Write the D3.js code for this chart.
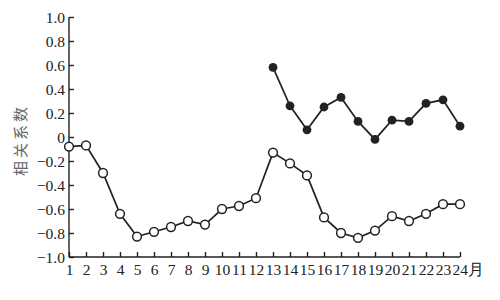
<!DOCTYPE html>
<html>
<head>
    <meta charset="UTF-8">
    <title>相关系数</title>
    <script src="https://d3js.org/d3.v7.min.js"></script>
    <style type="text/css">
      body{ margin:0; background-color: white; }
      svg{ background-color: white; display:block; }
    </style>
</head>
<body>
    <svg id="chart"></svg>
    <script>
        // months on the x axis
        const months = d3.range(1, 25);
        // hollow-circle series, months 1-24
        const hollow = [-0.08, -0.07, -0.30, -0.64, -0.83, -0.79, -0.75, -0.70, -0.73, -0.60, -0.575, -0.51,
                        -0.13, -0.22, -0.32, -0.67, -0.80, -0.84, -0.78, -0.66, -0.70, -0.64, -0.56, -0.56];
        // filled-circle series, months 13-24
        const filledMonths = d3.range(13, 25);
        const filled = [0.58, 0.26, 0.06, 0.25, 0.33, 0.13, -0.02, 0.14, 0.13, 0.28, 0.31, 0.09];
        const yTicks = [1.0, 0.8, 0.6, 0.4, 0.2, 0, -0.2, -0.4, -0.6, -0.8, -1.0];

        const margins = {top:17, bottom:43, left:69, right:40};
        const width = 500 - margins.left - margins.right;
        const height = 300 - margins.top - margins.bottom;
        const ink = "#222";

        const svg = d3.select("#chart")
          .attr("width", 500)
          .attr("height", 300);

        const chart = svg.append("g")
          .attr("transform", `translate(${margins.left}, ${margins.top})`);

        const x_scale = d3.scaleLinear()
          .domain([1, 24])
          .range([0, 391]);

        const y_scale = d3.scaleLinear()
          .domain([-1, 1])
          .range([height, 0]);

        // y axis, ticks pointing inward
        const yAxis = chart.append("g")
          .call(d3.axisRight(y_scale)
            .tickValues(yTicks)
            .tickSize(5)
            .tickFormat(d => d === 0 ? "0" : d3.format(".1f")(d)));
        yAxis.select(".domain").attr("d", `M0,0V${height}`);
        yAxis.selectAll("text")
          .attr("x", -4)
          .attr("dy", "0.36em")
          .attr("text-anchor", "end");

        // x axis, ticks pointing up
        const xAxis = chart.append("g")
          .attr("transform", `translate(0, ${height})`)
          .call(d3.axisTop(x_scale)
            .tickValues(months)
            .tickSize(5)
            .tickFormat(d => d === 24 ? "24月" : d));
        xAxis.select(".domain").attr("d", `M0,0H${x_scale(24)}`);
        xAxis.selectAll("text")
          .attr("y", 7)
          .attr("dy", "0.71em")
          .attr("text-anchor", d => d === 24 ? "start" : "middle")
          .attr("dx", d => d === 24 ? -8 : 0);

        svg.selectAll(".tick text")
          .attr("fill", ink)
          .style("font-family", "'Liberation Serif', 'DejaVu Serif', serif")
          .style("font-size", "15.5px");
        svg.selectAll(".tick line, .domain")
          .attr("stroke", ink)
          .attr("stroke-width", 1.4);

        // y label
        svg.append("text")
          .attr("text-anchor", "middle")
          .attr("transform", `translate(26, 140)rotate(-90)`)
          .attr("fill", "#666")
          .style("font-family", "'Noto Sans CJK SC', sans-serif")
          .style("font-size", "15px")
          .style("letter-spacing", "3px")
          .text("相关系数");

        const line = d3.line()
          .x(d => x_scale(d[0]))
          .y(d => y_scale(d[1]));

        const hollowData = months.map((m, i) => [m, hollow[i]]);
        const filledData = filledMonths.map((m, i) => [m, filled[i]]);

        chart.append("path")
          .datum(hollowData)
          .attr("d", line)
          .attr("fill", "none")
          .attr("stroke", ink)
          .attr("stroke-width", 1.7);

        chart.selectAll("circle.hollow")
          .data(hollowData)
          .enter()
          .append("circle")
          .attr("class", "hollow")
          .attr("cx", d => x_scale(d[0]))
          .attr("cy", d => y_scale(d[1]))
          .attr("r", 4.4)
          .attr("fill", "white")
          .attr("stroke", ink)
          .attr("stroke-width", 1.5);

        chart.append("path")
          .datum(filledData)
          .attr("d", line)
          .attr("fill", "none")
          .attr("stroke", ink)
          .attr("stroke-width", 1.7);

        chart.selectAll("circle.filled")
          .data(filledData)
          .enter()
          .append("circle")
          .attr("class", "filled")
          .attr("cx", d => x_scale(d[0]))
          .attr("cy", d => y_scale(d[1]))
          .attr("r", 4.4)
          .attr("fill", ink);
    </script>
</body>
</html>
